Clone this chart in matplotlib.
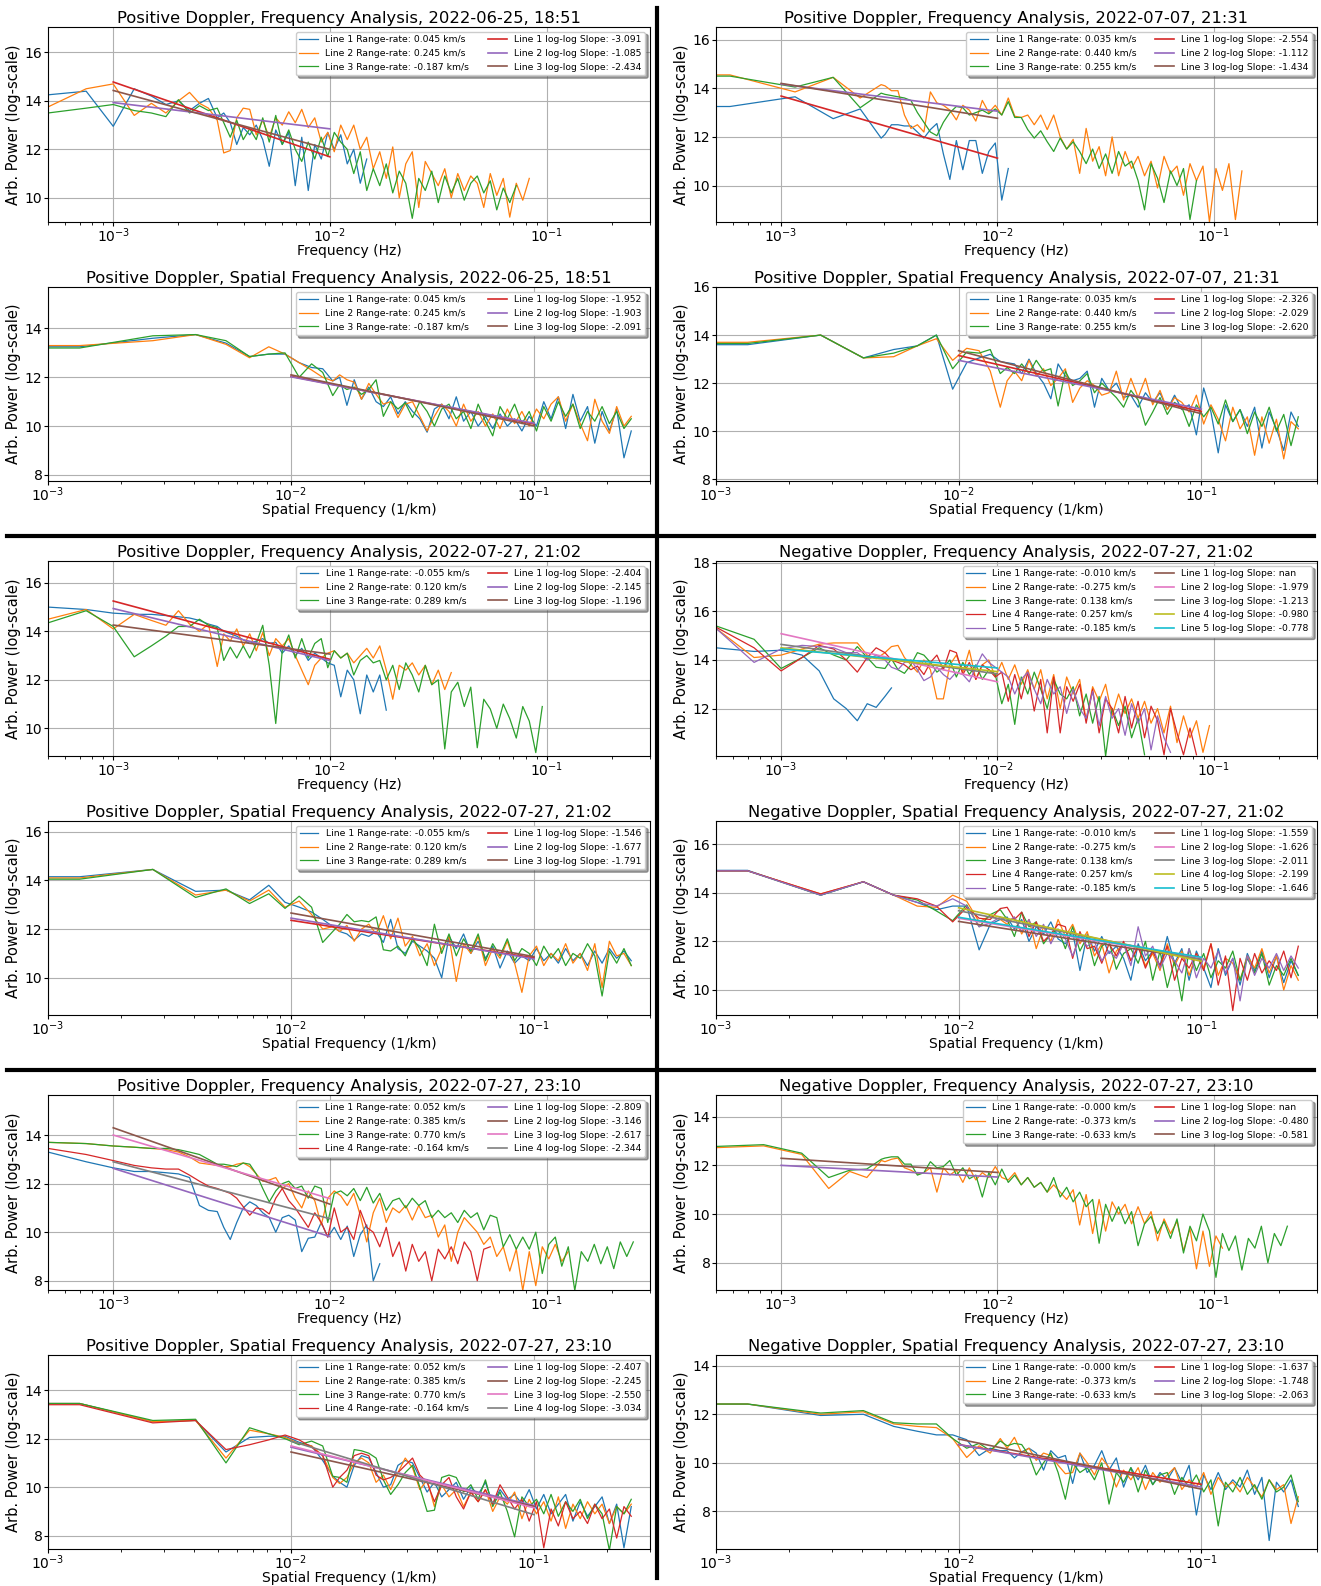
import numpy as np
import matplotlib
matplotlib.use('Agg')
from matplotlib import pyplot as plt
from matplotlib.lines import Line2D

# frequency sample grids (low part = multiples of df, high part = log spaced)
FREQ_HI = 10 ** np.arange(-2.52, -0.5, 0.03)
SPAT_HI = 10 ** np.arange(-1.80, -0.5, 0.03)
SPAT_DF = 1.35e-3


def freq_grid(df, k_lo, k_hi):
    return np.concatenate([df * np.arange(k_lo, k_hi + 1), FREQ_HI])


def spat_grid():
    return np.concatenate([SPAT_DF * np.arange(0, 12), SPAT_HI])


# ---------------- 2022-06-25 18:51, positive doppler, frequency
A1_RATES = [0.045, 0.245, -0.187]
A1_SLOPES = [-3.091, -1.085, -2.434]
A1_FIT0 = [14.78, 13.93, 14.43]
A1_L1 = [14.25, 14.4, 12.95, 14.5, 14.2, 13.85, 14.0, 13.6, 13.9, 14.1,
         13.3, 13.5, 13.1, 12.2, 12.9, 12.6, 13.0, 12.4, 11.3, 12.8, 12.2, 12.7, 10.5, 12.5, 10.3, 12.2,
         11.6, 12.7, 12.0, 12.6, 11.4, 12.0, 10.6, 11.6]
A1_L2 = [13.75, 14.5, 14.7, 13.4, 13.9, 13.5, 14.0, 14.35, 13.9, 13.7,
         13.2, 11.85, 11.95, 13.3, 13.7, 13.65, 12.6, 13.2, 12.5, 13.3, 13.0, 13.55, 13.1, 13.65, 12.9,
         13.3, 12.3, 12.7, 11.9, 13.0, 12.4, 13.0, 12.0, 12.5, 11.2, 11.9, 10.8, 12.1, 10.0, 11.4, 11.9,
         9.6, 11.5, 11.0, 10.5, 11.2, 10.0, 11.0, 10.3, 10.9, 10.6, 9.6, 11.0, 10.1, 10.8, 9.2, 10.6,
         9.9, 10.8]
A1_L3 = [13.5, 13.7, 13.85, 13.6, 13.5, 13.35, 14.05, 13.5, 13.8, 13.6,
         13.7, 13.1, 12.5, 13.2, 12.4, 12.85, 12.4, 13.3, 12.3, 13.4, 12.2, 12.8, 12.0, 11.5, 12.3, 11.6,
         12.5, 11.7, 12.7, 12.3, 12.0, 11.0, 11.9, 10.3, 11.2, 10.5, 11.4, 10.2, 11.1, 10.6, 9.15, 10.8,
         10.3, 11.1, 9.8, 10.9, 10.2, 10.8, 9.9, 10.6, 10.9, 10.2, 10.7, 9.5, 10.4, 9.8, 10.5]

# ---------------- 2022-07-07 21:31, positive doppler, frequency
A2_RATES = [0.035, 0.440, 0.255]
A2_SLOPES = [-2.554, -1.112, -1.434]
A2_FIT0 = [13.68, 14.17, 14.2]
A2_L1 = [13.25, 13.25, 13.65, 12.75, 13.15, 11.95,
         12.1, 12.5, 12.5, 12.45, 12.45, 12.2, 11.95, 12.3, 12.55, 11.3, 10.25, 11.85, 10.65, 11.85,
         11.85, 10.5, 11.4, 11.75, 9.4, 10.7]
A2_L2 = [14.55, 14.55, 13.85, 14.45, 13.6, 14.15,
         14.1, 13.9, 13.9, 12.9, 12.35, 12.5, 12.2, 13.85, 13.4, 13.3, 13.1, 12.7, 13.3, 13.1, 12.65,
         13.5, 13.0, 13.3, 12.9, 13.6, 12.85, 12.8, 12.9, 12.5, 12.9, 12.3, 12.9, 12.0, 11.5, 11.9, 10.5,
         12.35, 11.0, 11.6, 10.4, 12.0, 10.4, 11.4, 10.7, 11.2, 10.4, 11.0, 9.9, 11.2, 10.5, 10.8, 9.6,
         10.9, 10.2, 10.8, 8.5, 10.7, 9.8, 10.9, 8.6, 10.6]
A2_L3 = [14.5, 14.5, 14.05, 14.45, 13.2, 13.8,
         13.75, 13.7, 13.65, 13.6, 13.5, 13.0, 12.6, 12.2, 12.05, 12.6, 13.0, 13.25, 13.2, 12.9, 13.0,
         13.1, 12.95, 13.15, 12.9, 13.45, 12.8, 12.8, 12.3, 11.95, 12.25, 11.8, 11.4, 11.95, 11.5, 11.8,
         11.4, 10.9, 11.5, 10.7, 11.3, 10.5, 11.4, 10.8, 11.0, 10.2, 9.0, 10.9, 10.3, 9.3, 10.6, 10.0,
         10.7, 8.6, 10.2]

# ---------------- 2022-06-25 18:51, positive doppler, spatial
A3_RATES = A1_RATES
A3_SLOPES = [-1.952, -1.903, -2.091]
A3_FIT0 = [12.04, 12.02, 12.1]
A3_L1 = [13.25, 13.25, 13.6, 13.75, 13.4, 12.85, 12.95, 12.95, 12.6, 12.4, 12.35, 11.85,
         12.0, 10.85, 11.9, 11.1, 11.6, 11.0, 10.8, 11.2, 10.5, 11.0, 10.6, 10.3, 9.75, 10.7, 10.9,
         10.3, 11.2, 10.2, 10.6, 10.0, 10.4, 9.9, 10.5, 10.0, 10.3, 9.8, 10.4, 10.0, 11.0, 10.3, 11.2,
         9.9, 11.3, 10.2, 10.8, 9.3, 10.6, 9.8, 10.7, 8.7, 9.8]
A3_L2 = [13.3, 13.3, 13.5, 13.75, 13.35, 12.8, 13.25, 12.95, 12.6, 12.3, 12.0, 11.85,
         12.1, 11.9, 11.8, 11.1, 11.75, 11.3, 10.9, 11.0, 10.35, 10.9, 11.0, 10.4, 9.8, 10.4, 10.9,
         10.6, 10.0, 10.9, 10.2, 10.6, 10.0, 10.5, 9.9, 10.7, 10.1, 10.6, 10.0, 10.7, 10.3, 10.9, 11.2,
         10.2, 10.9, 10.1, 9.4, 11.1, 10.2, 9.7, 10.8, 10.0, 10.4]
A3_L3 = [13.2, 13.2, 13.7, 13.75, 13.5, 12.85, 12.95, 13.0, 12.0, 12.55, 12.2, 11.25,
         11.7, 11.5, 11.6, 11.3, 11.5, 11.9, 10.4, 11.0, 10.7, 10.95, 10.35, 11.0, 10.6, 10.0, 10.7,
         10.9, 10.3, 10.6, 9.9, 10.9, 10.2, 9.6, 10.8, 10.3, 10.9, 10.1, 10.6, 9.8, 10.8, 10.2, 11.0,
         10.4, 10.9, 9.9, 10.6, 10.2, 10.8, 10.1, 10.6, 9.9, 10.3]

# ---------------- 2022-07-07 21:31, positive doppler, spatial
A4_RATES = A2_RATES
A4_SLOPES = [-2.326, -2.029, -2.620]
A4_FIT0 = [13.15, 12.95, 13.35]
A4_L1 = [13.6, 13.6, 14.0, 13.05, 13.4, 13.55, 14.0, 11.75, 12.85, 13.05, 13.2, 12.9,
         12.85, 12.8, 12.4, 13.0, 12.4, 12.0, 11.35, 12.8, 12.3, 12.1, 12.2, 12.5, 11.0, 12.2, 11.7,
         12.0, 11.4, 11.5, 11.0, 11.6, 11.2, 11.6, 10.9, 11.5, 10.9, 11.1, 9.85, 11.8, 10.8, 9.1, 11.1,
         10.4, 10.9, 10.2, 11.0, 9.3, 10.8, 10.1, 9.2, 10.8, 10.2]
A4_L2 = [13.7, 13.7, 14.0, 13.05, 13.1, 13.55, 13.85, 12.95, 13.45, 13.35, 12.5, 11.0,
         12.1, 12.5, 12.1, 12.95, 12.3, 12.6, 11.9, 12.2, 12.6, 11.2, 11.8, 12.1, 11.9, 11.5, 11.6,
         12.5, 11.3, 12.2, 11.4, 12.2, 11.1, 11.7, 10.9, 11.4, 11.2, 10.8, 11.5, 10.3, 11.1, 10.5, 9.6,
         11.0, 10.1, 10.6, 9.0, 10.6, 9.5, 10.5, 8.85, 10.4, 10.1]
A4_L3 = [13.65, 13.65, 14.0, 13.05, 13.25, 13.55, 14.0, 12.6, 13.3, 13.25, 13.4, 12.4,
         12.65, 12.4, 12.8, 12.4, 12.95, 12.5, 12.6, 11.05, 12.5, 11.9, 12.1, 12.4, 11.6, 12.0, 11.7,
         11.4, 11.0, 11.7, 11.3, 10.25, 10.8, 11.4, 10.7, 11.2, 11.0, 10.2, 11.1, 10.6, 11.0, 10.3, 11.3,
         10.4, 10.9, 9.9, 10.8, 10.2, 11.0, 10.0, 10.7, 9.4, 10.6]

# ---------------- 2022-07-27 21:02, positive doppler, frequency
B1_RATES = [-0.055, 0.120, 0.289]
B1_SLOPES = [-2.404, -2.145, -1.196]
B1_FIT0 = [15.25, 14.94, 14.26]
B1_L1 = [15.0, 14.9, 14.75, 14.7, 14.7, 14.65, 14.6, 14.55, 14.45, 14.3,
         14.2, 14.0, 13.9, 13.8, 13.65, 13.5, 13.6, 13.7, 13.5, 13.55, 13.1, 13.4, 13.0, 13.3, 12.8,
         13.1, 12.9, 12.7, 12.6, 11.3, 12.4, 12.0, 10.6, 12.2, 11.5, 12.2, 10.75]
B1_L2 = [14.5, 14.9, 14.1, 14.7, 14.45, 14.25, 14.85, 14.3, 14.0, 14.3,
         12.55, 13.9, 13.6, 14.1, 13.4, 13.9, 13.2, 13.95, 13.0, 13.7, 13.4, 13.7, 13.0, 12.4, 11.8,
         12.6, 12.9, 13.1, 13.2, 12.9, 13.1, 12.7, 13.0, 13.3, 12.9, 13.4, 12.4, 11.2, 12.6, 12.4, 12.7,
         12.2, 12.6, 11.8, 12.4, 11.6, 12.3]
B1_L3 = [14.35, 14.85, 14.2, 12.95, 13.4, 13.8, 14.2, 14.2, 14.5, 14.25,
         14.15, 12.8, 13.35, 12.9, 13.4, 12.9, 13.5, 14.25, 12.6, 10.2, 13.2, 13.85, 12.9, 13.7, 12.9,
         13.5, 13.7, 12.5, 13.2, 12.9, 13.1, 12.2, 12.8, 13.0, 12.7, 12.8, 12.0, 12.6, 11.6, 12.7, 12.2,
         11.5, 12.6, 11.8, 12.0, 9.15, 11.5, 11.9, 10.9, 11.7, 9.2, 11.2, 10.8, 10.0, 11.0, 10.4, 9.6,
         10.9, 10.3, 9.0, 10.9]

# ---------------- 2022-07-27 21:02, negative doppler, frequency
B2_RATES = [-0.010, -0.275, 0.138, 0.257, -0.185]
B2_SLOPES = [np.nan, -1.979, -1.213, -0.980, -0.778]
B2_FIT0 = [np.nan, 15.08, 14.64, 14.5, 14.45]
B2_L1 = [14.5, 14.35, 14.4, 14.2, 13.55, 12.4, 12.0, 11.5, 12.2, 12.05, 12.5, 12.85]
B2_L2 = [15.3, 14.1, 14.2, 14.45, 14.65, 14.7, 14.7, 14.7, 14.2, 14.05,
         14.3, 14.55, 14.6, 14.1, 13.8, 13.5, 14.0, 13.6, 12.4, 12.4, 13.8, 14.2, 13.5, 14.4, 13.2,
         13.8, 14.0, 13.3, 13.9, 13.2, 13.8, 13.0, 13.6, 12.8, 13.6, 12.4, 13.4, 12.0, 13.3, 12.6, 13.2,
         11.5, 12.9, 12.3, 13.0, 11.7, 12.6, 11.8, 12.4, 11.6, 12.3, 11.4, 12.0, 11.0, 12.1, 10.6, 11.7,
         10.8, 11.5, 10.2, 11.3]
B2_L3 = [15.4, 14.85, 13.65, 14.1, 14.5, 14.2, 14.0, 14.55, 14.1, 13.7,
         13.65, 14.05, 13.6, 13.45, 13.8, 14.3, 14.2, 13.9, 13.5, 13.7, 14.0, 13.3, 13.9, 13.4, 13.8,
         13.2, 13.6, 13.4, 12.2, 13.0, 11.35, 13.3, 12.6, 13.5, 12.8, 12.0, 13.2, 12.6, 12.4, 12.9, 11.7,
         12.6, 11.4, 12.5, 10.05, 12.0, 11.3, 12.1, 10.8, 11.6, 10.1]
B2_L4 = [15.35, 14.5, 13.55, 14.1, 14.6, 14.45, 14.0, 13.5, 14.1, 14.5,
         14.3, 14.0, 13.9, 13.8, 13.6, 13.75, 13.4, 13.9, 14.2, 13.6, 14.4, 14.3, 13.4, 13.9, 13.2,
         13.8, 13.6, 13.3, 13.5, 12.3, 13.4, 12.4, 13.5, 11.9, 13.2, 11.0, 13.3, 11.0, 12.9, 12.3, 13.0,
         11.4, 12.8, 11.0, 12.4, 12.0, 11.0, 12.5, 11.2, 12.3, 10.8, 12.1, 11.5, 10.1, 12.0, 11.0, 10.1,
         11.2, 10.1]
B2_L5 = [15.3, 13.9, 14.45, 14.6, 14.55, 14.5, 14.3, 14.3, 14.0, 14.2,
         14.0, 13.7, 13.6, 13.9, 14.0, 13.6, 13.15, 13.3, 13.7, 13.4, 13.2, 13.5, 13.4, 13.1, 13.7,
         14.25, 13.9, 13.7, 13.5, 13.3, 12.6, 13.2, 13.5, 12.8, 12.2, 13.2, 12.6, 12.9, 11.8, 12.8, 12.0,
         11.6, 12.7, 11.3, 12.5, 11.6, 12.0, 10.9, 12.2, 11.4, 12.0, 10.3, 11.7, 10.8, 10.2]

# ---------------- 2022-07-27 21:02, positive doppler, spatial
B3_RATES = B1_RATES
B3_SLOPES = [-1.546, -1.677, -1.791]
B3_FIT0 = [12.36, 12.45, 12.66]
B3_L1 = [14.15, 14.15, 14.45, 13.55, 13.6, 13.2, 13.8, 13.1, 12.9, 12.7, 12.4, 12.1,
         11.9, 11.8, 11.55, 11.8, 11.7, 11.9, 11.45, 12.4, 11.2, 11.0, 11.5, 11.3, 11.1, 10.8, 10.0,
         11.7, 11.2, 11.8, 11.0, 11.5, 10.8, 11.3, 10.4, 11.1, 10.6, 10.9, 10.7, 11.2, 10.7, 11.0, 10.6,
         11.2, 10.7, 11.0, 10.5, 11.1, 10.6, 11.2, 10.8, 11.1, 10.7]
B3_L2 = [14.1, 14.1, 14.45, 13.4, 13.6, 13.15, 13.6, 12.9, 13.15, 12.6, 12.0, 12.1,
         11.9, 12.15, 11.5, 12.0, 12.2, 11.8, 12.55, 11.6, 12.45, 11.3, 11.7, 10.9, 11.4, 10.5, 11.2,
         11.7, 9.85, 11.4, 11.0, 11.7, 10.5, 11.2, 10.8, 11.5, 10.6, 9.4, 10.9, 11.3, 10.5, 11.0, 10.7,
         11.4, 10.6, 11.0, 10.3, 11.4, 9.6, 11.5, 10.9, 11.0, 10.5]
B3_L3 = [14.05, 14.05, 14.45, 13.3, 13.65, 13.05, 13.45, 12.85, 13.35, 12.9, 11.45, 11.9,
         12.2, 12.6, 12.3, 12.35, 12.3, 12.5, 11.15, 11.1, 11.3, 10.9, 11.6, 11.2, 10.5, 12.2, 11.0,
         11.8, 10.9, 11.6, 11.1, 11.8, 10.7, 11.4, 10.9, 11.6, 10.7, 11.2, 11.0, 10.5, 11.3, 10.8, 11.2,
         10.5, 11.0, 10.8, 11.4, 10.9, 9.25, 11.1, 10.6, 11.2, 10.5]

# ---------------- 2022-07-27 21:02, negative doppler, spatial
B4_RATES = B2_RATES
B4_SLOPES = [-1.559, -1.626, -2.011, -2.199, -1.646]
B4_FIT0 = [12.82, 12.95, 13.26, 13.38, 12.99]
B4_L1 = [14.92, 14.92, 13.9, 14.45, 13.9, 13.6, 13.3, 13.45, 13.45, 11.65, 12.7, 12.9,
         13.0, 12.5, 12.9, 12.0, 12.6, 12.3, 12.8, 12.1, 11.9, 12.4, 10.8, 12.3, 11.6, 12.2, 11.5,
         11.8, 11.3, 10.4, 11.9, 11.2, 11.6, 11.0, 12.2, 11.1, 11.7, 10.4, 11.6, 10.9, 10.1, 11.7, 10.6,
         11.3, 10.2, 11.5, 10.8, 11.6, 10.5, 11.4, 10.3, 11.2, 10.6]
B4_L2 = [14.9, 14.9, 13.95, 14.45, 13.9, 13.45, 13.4, 13.9, 13.65, 12.8, 13.05, 12.9,
         12.7, 13.0, 12.3, 12.9, 11.7, 12.6, 12.0, 12.9, 12.2, 12.7, 11.9, 12.4, 11.4, 11.9, 10.7,
         11.6, 11.9, 11.2, 11.8, 11.0, 11.5, 10.8, 11.9, 11.0, 11.6, 10.6, 11.5, 10.9, 11.9, 10.6, 11.3,
         11.1, 10.4, 11.4, 10.9, 11.7, 10.7, 11.4, 10.0, 11.0, 10.4]
B4_L3 = [14.9, 14.9, 13.9, 14.45, 13.9, 13.7, 13.25, 12.85, 13.5, 12.6, 13.1, 13.3,
         12.9, 12.2, 13.2, 12.6, 12.8, 11.9, 12.3, 12.5, 11.7, 12.6, 11.6, 12.2, 11.0, 11.8, 12.0,
         10.85, 11.5, 11.7, 11.1, 12.0, 10.4, 11.6, 10.1, 11.2, 9.55, 11.7, 10.8, 11.5, 10.5, 11.2, 10.9,
         11.6, 10.4, 11.3, 10.7, 11.5, 10.2, 11.0, 10.6, 11.3, 10.6]
B4_L4 = [14.9, 14.9, 13.95, 14.45, 13.9, 13.75, 13.45, 12.8, 13.4, 12.95, 12.9, 13.35,
         13.4, 12.9, 13.2, 12.2, 12.8, 12.0, 12.3, 12.7, 12.6, 11.3, 12.4, 11.7, 11.8, 11.1, 11.9,
         11.4, 12.0, 11.2, 11.8, 10.9, 11.6, 11.0, 11.8, 10.4, 11.3, 10.9, 11.5, 10.8, 11.9, 10.2, 11.4,
         9.15, 11.3, 10.4, 11.5, 10.7, 11.2, 10.8, 11.6, 10.5, 11.8]
B4_L5 = [14.9, 14.9, 13.9, 14.45, 13.9, 13.6, 13.45, 13.75, 13.45, 12.6, 12.75, 13.0,
         12.8, 13.0, 12.4, 12.9, 12.2, 12.7, 11.9, 12.5, 12.1, 11.4, 12.2, 11.8, 12.0, 11.2, 11.6,
         11.3, 11.9, 11.0, 12.6, 11.4, 11.8, 10.9, 11.5, 11.2, 10.7, 11.7, 10.5, 11.3, 10.9, 11.6, 10.7,
         11.3, 9.55, 11.4, 10.6, 11.3, 10.9, 11.5, 10.8, 11.4, 10.9]

# ---------------- 2022-07-27 23:10, positive doppler, frequency
C1_RATES = [0.052, 0.385, 0.770, -0.164]
C1_SLOPES = [-2.809, -3.146, -2.617, -2.344]
C1_FIT0 = [12.63, 14.3, 14.0, 12.9]
C1_L1 = [13.3, 12.9, 12.65, 12.5, 12.5, 12.45, 12.4, 12.25, 11.1, 10.9,
         10.85, 10.2, 9.7, 10.4, 11.0, 11.25, 11.1, 10.8, 10.6, 10.0, 10.6, 10.7, 10.5, 9.2, 9.75,
         9.8, 10.4, 9.8, 10.2, 9.7, 10.25, 9.0, 9.9, 10.3, 8.0, 8.7]
C1_L2 = [13.7, 13.65, 13.55, 13.5, 13.45, 13.4, 13.3, 13.1, 12.85, 12.8,
         12.75, 12.7, 12.7, 12.8, 12.85, 12.7, 12.4, 12.1, 12.15, 12.25, 11.8, 12.0, 11.4, 11.0, 11.7,
         11.3, 10.3, 11.4, 11.7, 11.5, 11.1, 11.6, 10.7, 9.6, 10.8, 11.4, 10.4, 11.0, 10.8, 11.1, 10.5,
         11.1, 10.6, 10.7, 9.8, 10.3, 8.8, 10.0, 10.6, 10.3, 10.0, 9.5, 9.8, 9.0, 9.4, 8.4, 9.3,
         7.6, 9.2, 7.8, 9.4, 8.9, 9.5, 8.8, 9.2]
C1_L3 = [13.7, 13.65, 13.55, 13.5, 13.45, 13.45, 13.4, 13.3, 13.2, 13.0,
         12.8, 12.8, 12.75, 12.7, 12.85, 12.8, 12.4, 11.8, 11.25, 11.7, 12.0, 12.1, 11.8, 11.9, 11.4,
         11.9, 11.8, 10.4, 11.6, 11.7, 11.5, 11.8, 11.3, 11.85, 11.2, 11.6, 10.9, 11.3, 11.4, 11.0, 11.4,
         11.1, 11.3, 10.6, 10.9, 10.6, 10.8, 10.4, 10.9, 10.6, 10.8, 10.1, 10.7, 10.6, 9.4, 9.9, 9.3,
         9.8, 9.3, 10.0, 8.3, 9.5, 9.8, 8.6, 9.4, 7.6, 9.2, 8.8, 9.5, 8.7, 9.4, 8.5, 9.6, 9.0, 9.6]
C1_L4 = [13.45, 13.2, 12.95, 12.75, 12.65, 12.6, 12.6, 12.35, 12.1, 11.9,
         11.8, 11.7, 11.6, 11.4, 11.05, 10.7, 11.0, 10.95, 10.75, 11.4, 11.8, 11.3, 11.0, 10.6, 10.2,
         10.8, 10.4, 9.8, 11.0, 10.0, 10.2, 9.7, 10.9, 10.2, 10.0, 9.4, 10.2, 9.0, 9.6, 8.4, 9.5,
         8.8, 9.2, 8.0, 9.3, 8.9, 9.4, 8.7, 9.6, 9.2, 8.0, 9.3, 9.4]

# ---------------- 2022-07-27 23:10, negative doppler, frequency
C2_RATES = [-0.0, -0.373, -0.633]
C2_SLOPES = [np.nan, -0.480, -0.581]
C2_FIT0 = [np.nan, 12.0, 12.29]
C2_L1 = []
C2_L2 = [12.7, 12.8, 12.45, 11.05, 11.75, 11.5, 12.2,
         12.15, 12.25, 12.3, 11.9, 11.8, 11.65, 11.7, 11.9, 10.9, 11.9, 11.6, 11.8, 11.3, 11.9, 11.4,
         11.7, 11.5, 11.95, 11.5, 11.4, 11.7, 11.2, 11.5, 11.1, 11.3, 10.9, 11.2, 10.9, 10.6, 11.0,
         9.55, 10.8, 9.2, 10.6, 9.3, 10.5, 10.0, 10.4, 9.6, 10.3, 9.6, 10.1, 8.9, 9.8, 9.2, 9.7, 8.5,
         9.4, 7.75, 9.3, 7.85, 9.1, 8.6]
C2_L3 = [12.75, 12.85, 12.5, 11.5, 11.8, 11.85, 12.25,
         12.3, 12.35, 12.35, 12.05, 12.05, 11.6, 11.7, 12.15, 11.9, 11.95, 12.2, 11.6, 11.9, 11.45,
         11.6, 10.7, 11.7, 11.2, 11.85, 11.3, 11.6, 11.2, 11.5, 11.1, 11.3, 10.9, 11.5, 10.7, 11.1, 10.5,
         10.9, 10.3, 10.6, 8.8, 10.4, 9.7, 10.3, 9.6, 10.1, 8.7, 9.6, 9.9, 9.2, 9.7, 9.0, 9.8, 8.4, 9.5,
         8.9, 10.0, 9.3, 7.4, 9.2, 8.5, 9.1, 7.7, 9.0, 8.6, 9.5, 8.0, 9.2, 8.7, 9.5]

# ---------------- 2022-07-27 23:10, positive doppler, spatial
C3_RATES = C1_RATES
C3_SLOPES = [-2.407, -2.245, -2.550, -3.034]
C3_FIT0 = [11.65, 11.45, 11.7, 11.9]
C3_L1 = [13.45, 13.45, 12.7, 12.75, 11.45, 12.05, 12.1, 12.1, 11.85, 11.7, 11.1, 10.45,
         10.2, 10.0, 10.9, 11.3, 11.2, 10.6, 10.0, 10.1, 10.9, 11.1, 11.0, 10.4, 9.8, 10.2, 9.6,
         9.9, 10.2, 9.5, 10.0, 9.7, 10.2, 9.3, 9.9, 9.5, 9.7, 9.3, 9.9, 9.1, 9.7, 8.9, 9.3, 9.7, 8.6,
         9.4, 8.8, 9.2, 9.6, 8.5, 9.3, 7.5, 9.2]
C3_L2 = [13.45, 13.45, 12.7, 12.75, 11.2, 12.35, 12.2, 12.05, 11.8, 11.7, 11.3, 10.4,
         10.15, 10.4, 11.0, 11.2, 11.0, 10.2, 10.5, 9.9, 10.6, 11.2, 10.8, 9.9, 10.3, 9.2, 10.1,
         9.6, 9.9, 9.2, 9.8, 9.4, 9.9, 9.0, 9.6, 9.3, 9.8, 8.7, 9.5, 8.9, 9.4, 8.6, 9.6, 8.3, 9.3,
         8.7, 9.4, 8.9, 9.3, 8.5, 9.2, 8.9, 9.3]
C3_L3 = [13.45, 13.45, 12.75, 12.8, 11.0, 12.45, 12.2, 12.0, 11.75, 11.9, 11.7, 10.45,
         10.4, 10.2, 11.55, 11.5, 11.4, 11.2, 10.3, 9.7, 10.1, 10.6, 10.9, 10.0, 9.0, 9.05, 10.4,
         10.5, 10.4, 9.8, 10.1, 9.5, 10.3, 9.2, 9.8, 9.0, 7.95, 9.6, 9.2, 9.5, 8.9, 9.7, 8.8, 9.4,
         9.0, 9.5, 8.7, 9.3, 8.9, 7.4, 9.2, 8.9, 9.5]
C3_L4 = [13.4, 13.4, 12.65, 12.75, 11.55, 11.75, 11.95, 12.15, 11.95, 11.65, 11.3, 10.0,
         10.4, 10.7, 11.3, 11.4, 11.3, 10.5, 10.3, 10.4, 10.6, 10.9, 11.2, 10.5, 10.2, 9.4, 10.1,
         10.4, 9.6, 9.1, 9.8, 9.4, 9.9, 9.3, 10.1, 9.6, 9.1, 9.5, 8.6, 9.4, 7.5, 9.1, 8.4, 9.4, 8.7,
         9.0, 8.5, 9.3, 8.7, 9.1, 7.9, 9.2, 8.8]

# ---------------- 2022-07-27 23:10, negative doppler, spatial
C4_RATES = C2_RATES
C4_SLOPES = [-1.637, -1.748, -2.063]
C4_FIT0 = [10.75, 10.75, 10.98]
C4_L1 = [12.42, 12.42, 11.95, 12.0, 11.5, 11.3, 11.15, 11.15, 10.95, 10.3, 10.6, 10.5,
         10.5, 10.2, 10.45, 10.6, 10.4, 9.7, 10.5, 10.2, 10.3, 9.15, 10.4, 9.6, 9.9, 10.5, 9.7,
         10.2, 9.0, 9.8, 9.3, 9.9, 9.1, 9.6, 9.3, 9.8, 9.2, 9.9, 7.85, 9.5, 8.9, 9.6, 8.9, 9.3, 9.0,
         9.7, 8.7, 9.4, 6.8, 9.2, 8.8, 9.3, 8.2]
C4_L2 = [12.42, 12.42, 12.0, 12.1, 11.6, 11.5, 11.45, 11.0, 10.22, 10.7, 10.4, 11.0,
         10.6, 11.05, 10.4, 10.6, 10.1, 10.4, 10.3, 9.9, 9.55, 9.6, 10.4, 10.0, 9.5, 10.2, 9.8,
         9.0, 9.7, 9.3, 9.8, 8.9, 9.6, 9.2, 9.5, 9.8, 8.9, 9.3, 9.0, 9.6, 8.7, 9.4, 9.0, 9.2, 8.8,
         9.4, 9.0, 8.6, 9.3, 8.9, 9.1, 7.5, 8.6]
C4_L3 = [12.42, 12.42, 12.05, 12.15, 11.65, 11.6, 11.6, 11.0, 10.6, 10.8, 10.5, 10.9,
         10.7, 10.8, 10.75, 10.3, 9.5, 10.0, 10.4, 9.6, 8.5, 10.0, 9.6, 9.8, 9.3, 10.0, 8.3,
         9.6, 9.2, 9.8, 8.8, 9.7, 9.1, 9.5, 9.6, 8.7, 9.4, 9.0, 9.5, 8.8, 9.3, 7.4, 9.2, 8.8, 9.4,
         8.7, 9.1, 8.5, 9.3, 8.8, 9.0, 9.5, 8.4]

FREQ_T = '{} Doppler, Frequency Analysis, {}'
SPAT_T = '{} Doppler, Spatial Frequency Analysis, {}'

PANELS = [
    dict(cell=(0, 0), grid=freq_grid(2.5e-4, 2, 11), fit_f0=1e-3, ylim=(9.0, 17.05),
         title=FREQ_T.format('Positive', '2022-06-25, 18:51'),
         lines=[A1_L1, A1_L2, A1_L3], rates=A1_RATES, slopes=A1_SLOPES, fit0=A1_FIT0),
    dict(cell=(0, 1), grid=freq_grid(5.8e-4, 0, 5), fit_f0=1e-3, ylim=(8.5, 16.52),
         title=FREQ_T.format('Positive', '2022-07-07, 21:31'),
         lines=[A2_L1, A2_L2, A2_L3], rates=A2_RATES, slopes=A2_SLOPES, fit0=A2_FIT0),
    dict(cell=(1, 0), grid=spat_grid(), fit_f0=1e-2, ylim=(7.75, 15.7),
         title=SPAT_T.format('Positive', '2022-06-25, 18:51'),
         lines=[A3_L1, A3_L2, A3_L3], rates=A3_RATES, slopes=A3_SLOPES, fit0=A3_FIT0),
    dict(cell=(1, 1), grid=spat_grid(), fit_f0=1e-2, ylim=(7.93, 16.0),
         title=SPAT_T.format('Positive', '2022-07-07, 21:31'),
         lines=[A4_L1, A4_L2, A4_L3], rates=A4_RATES, slopes=A4_SLOPES, fit0=A4_FIT0),
    dict(cell=(2, 0), grid=freq_grid(2.5e-4, 2, 11), fit_f0=1e-3, ylim=(8.86, 16.9),
         title=FREQ_T.format('Positive', '2022-07-27, 21:02'),
         lines=[B1_L1, B1_L2, B1_L3], rates=B1_RATES, slopes=B1_SLOPES, fit0=B1_FIT0),
    dict(cell=(2, 1), grid=freq_grid(2.5e-4, 2, 11), fit_f0=1e-3, ylim=(10.05, 18.07),
         title=FREQ_T.format('Negative', '2022-07-27, 21:02'),
         lines=[B2_L1, B2_L2, B2_L3, B2_L4, B2_L5], rates=B2_RATES, slopes=B2_SLOPES, fit0=B2_FIT0),
    dict(cell=(3, 0), grid=spat_grid(), fit_f0=1e-2, ylim=(8.47, 16.44),
         title=SPAT_T.format('Positive', '2022-07-27, 21:02'),
         lines=[B3_L1, B3_L2, B3_L3], rates=B3_RATES, slopes=B3_SLOPES, fit0=B3_FIT0),
    dict(cell=(3, 1), grid=spat_grid(), fit_f0=1e-2, ylim=(8.97, 16.95),
         title=SPAT_T.format('Negative', '2022-07-27, 21:02'),
         lines=[B4_L1, B4_L2, B4_L3, B4_L4, B4_L5], rates=B4_RATES, slopes=B4_SLOPES, fit0=B4_FIT0),
    dict(cell=(4, 0), grid=freq_grid(2.5e-4, 2, 11), fit_f0=1e-3, ylim=(7.62, 15.65),
         title=FREQ_T.format('Positive', '2022-07-27, 23:10'),
         lines=[C1_L1, C1_L2, C1_L3, C1_L4], rates=C1_RATES, slopes=C1_SLOPES, fit0=C1_FIT0),
    dict(cell=(4, 1), grid=freq_grid(4.15e-4, 1, 7), fit_f0=1e-3, ylim=(6.88, 14.89),
         title=FREQ_T.format('Negative', '2022-07-27, 23:10'),
         lines=[C2_L1, C2_L2, C2_L3], rates=C2_RATES, slopes=C2_SLOPES, fit0=C2_FIT0),
    dict(cell=(5, 0), grid=spat_grid(), fit_f0=1e-2, ylim=(7.45, 15.45),
         title=SPAT_T.format('Positive', '2022-07-27, 23:10'),
         lines=[C3_L1, C3_L2, C3_L3, C3_L4], rates=C3_RATES, slopes=C3_SLOPES, fit0=C3_FIT0),
    dict(cell=(5, 1), grid=spat_grid(), fit_f0=1e-2, ylim=(6.45, 14.44),
         title=SPAT_T.format('Negative', '2022-07-27, 23:10'),
         lines=[C4_L1, C4_L2, C4_L3], rates=C4_RATES, slopes=C4_SLOPES, fit0=C4_FIT0),
]

W, H = 1321, 1586
COL_X = [(48, 650), (716, 1317)]
ROW_Y = [(27, 222), (287, 481), (561, 756), (821, 1015), (1095, 1290), (1355, 1549)]

fig = plt.figure(figsize=(W / 100, H / 100), dpi=100)

for p in PANELS:
    r, c = p['cell']
    x0, x1 = COL_X[c]
    y0, y1 = ROW_Y[r]
    ax = fig.add_axes([x0 / W, 1 - y1 / H, (x1 - x0) / W, (y1 - y0) / H])
    grid = p['grid']
    handles = []
    for n, ys in enumerate(p['lines']):
        h, = ax.plot(grid[:len(ys)], ys, lw=0.9,
                     label=f"Line {n + 1} Range-rate: {p['rates'][n]:.3f} km/s")
        handles.append(h)
    f0 = p['fit_f0']
    for n, (s, c0) in enumerate(zip(p['slopes'], p['fit0'])):
        h, = ax.plot([f0, f0 * 10], [c0, c0 + s], lw=1.2,
                     label=f"Line {n + 1} log-log Slope: {s:.3f}")
        handles.append(h)
    ax.set_xscale('log')
    if f0 == 1e-3:
        ax.set_xlim(5e-4, 0.3)
        ax.set_xlabel('Frequency (Hz)', fontsize=10)
    else:
        ax.set_xlim(1e-3, 0.3)
        ax.set_xlabel('Spatial Frequency (1/km)', fontsize=10)
    ax.set_ylim(*p['ylim'])
    ax.set_ylabel('Arb. Power (log-scale)', fontsize=10.5)
    ax.xaxis.set_label_coords(0.5, -22 / (y1 - y0))
    ax.yaxis.set_label_coords(-27 / (x1 - x0), 0.5)
    ax.set_title(p['title'], fontsize=11.8, pad=3)
    ax.tick_params(labelsize=10, length=3)
    ax.tick_params(axis='x', which='both', pad=0.5)
    ax.tick_params(axis='y', pad=1)
    ax.grid(True)
    ax.legend(handles=handles, ncol=2, loc='upper right', fontsize=6.7, shadow=True)

# black separators between the figure blocks
fig.add_artist(Line2D([657 / W, 657 / W], [0.005, 0.995], transform=fig.transFigure, color='k', lw=3))
for yy in (536, 1070):
    fig.add_artist(Line2D([0.005, 0.995], [1 - yy / H, 1 - yy / H], transform=fig.transFigure, color='k', lw=3))

fig.savefig('out.png', dpi=100)
